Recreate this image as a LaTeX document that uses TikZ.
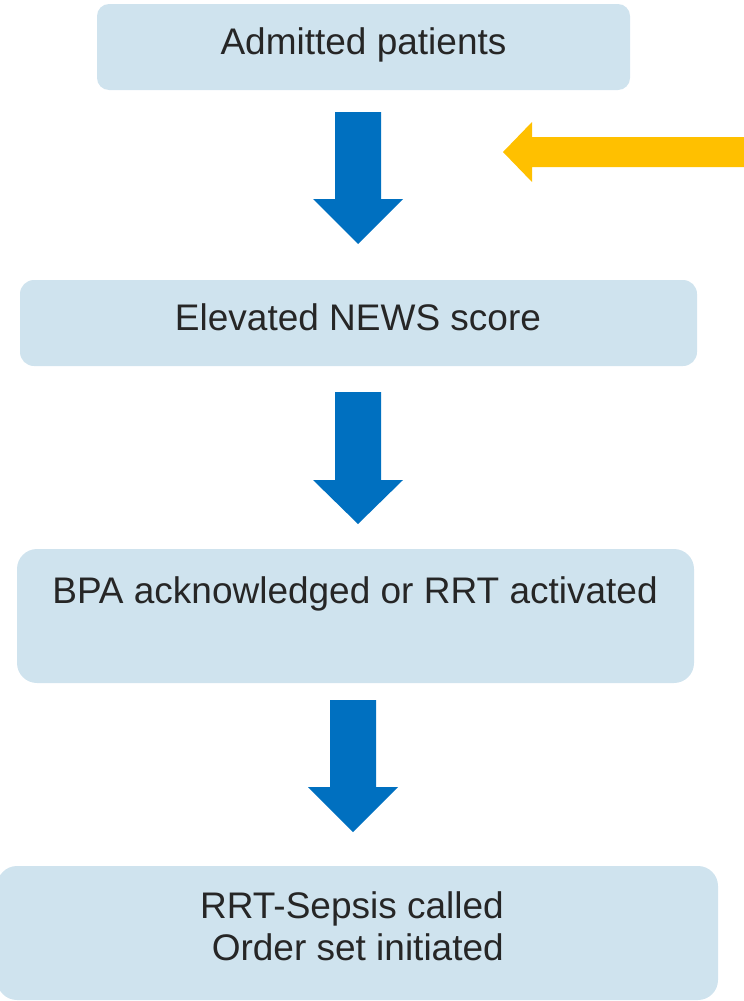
\documentclass[tikz,border=0pt]{standalone}
\usepackage{fontspec}
\setmainfont{Liberation Sans}
\definecolor{boxfill}{HTML}{CFE3EE}
\definecolor{arrowblue}{HTML}{0070C0}
\definecolor{arrowgold}{HTML}{FFC000}
\definecolor{txt}{HTML}{262626}
\begin{document}
\begin{tikzpicture}[x=1pt,y=-1pt,
  flowbox/.style={fill=boxfill, draw=none},
  boxtext/.style={text=txt, inner sep=0pt, font=\fontsize{37}{42}\selectfont},
  bluearrow/.style={fill=arrowblue, draw=none},
  goldarrow/.style={fill=arrowgold, draw=none}]
\useasboundingbox (0,0) rectangle (744,1001);
\clip (0,0) rectangle (744,1001);

% boxes
\fill[flowbox, rounded corners=12pt] (97,4) rectangle (630,90);
\fill[flowbox, rounded corners=14pt] (20,280) rectangle (697,366);
\fill[flowbox, rounded corners=20pt] (17,549) rectangle (694,683);
\fill[flowbox, rounded corners=20pt] (-3,866) rectangle (718,1000);

% texts
\node[boxtext, anchor=base] (t1) at (363.5,54) {Admitted patients};
\node[boxtext, anchor=base] (t2) at (358,330) {Elevated NEWS score};
\node[boxtext, anchor=base] (t3) at (355,603) {BPA acknowledged or RRT activated};
\node[boxtext, anchor=base east] (t4a) at (504,918) {RRT-Sepsis called};
\node[boxtext, anchor=base east] (t4b) at (504,960) {Order set initiated};

% blue block arrows
\fill[bluearrow] (335,112) -- (381,112) -- (381,199) -- (403,199) -- (358,244)
  -- (313,199) -- (335,199) -- cycle;
\fill[bluearrow] (335,392) -- (381,392) -- (381,480) -- (403,480) -- (358,524)
  -- (313,480) -- (335,480) -- cycle;
\fill[bluearrow] (330,700) -- (376,700) -- (376,787) -- (398,787) -- (353,832)
  -- (308,787) -- (330,787) -- cycle;

% gold arrow
\fill[goldarrow] (746,137) -- (532,137) -- (532,122) -- (503,152) -- (532,182)
  -- (532,167) -- (746,167) -- cycle;
\end{tikzpicture}
\end{document}
